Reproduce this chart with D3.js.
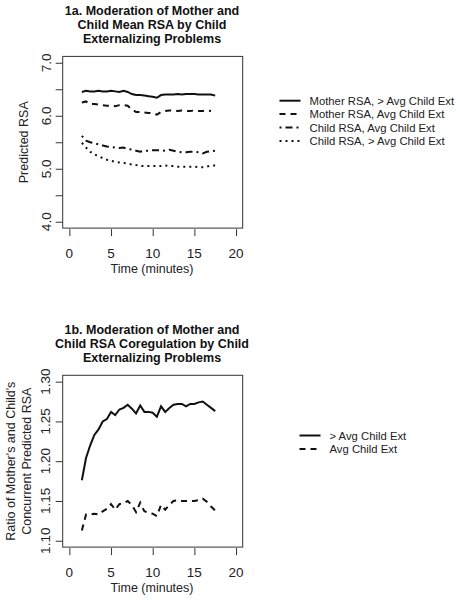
<!DOCTYPE html>
<html><head><meta charset="utf-8">
<script src="https://cdn.jsdelivr.net/npm/d3@7"></script>
<style>body{margin:0;background:#fff;} svg{display:block;font-family:"Liberation Sans",Arial,sans-serif;}</style>
</head><body>
<svg id="c" width="460" height="600"></svg>
<script>
const times = [1.5,2,2.5,3,3.5,4,4.5,5,5.5,6,6.5,7,7.5,8,8.5,9,9.5,10,10.5,11,11.5,12,12.5,13,13.5,14,14.5,15,15.5,16,16.5,17,17.5];
const motherHigh = [6.45,6.47,6.46,6.46,6.47,6.46,6.46,6.47,6.46,6.45,6.47,6.45,6.41,6.39,6.39,6.38,6.37,6.36,6.34,6.39,6.40,6.40,6.40,6.41,6.40,6.41,6.41,6.41,6.40,6.40,6.40,6.40,6.38];
const motherAvg = [6.25,6.27,6.22,6.22,6.21,6.20,6.19,6.19,6.18,6.20,6.20,6.19,6.12,6.07,6.07,6.06,6.05,6.05,6.02,6.07,6.09,6.10,6.10,6.09,6.10,6.09,6.09,6.10,6.09,6.09,6.10,6.09];
const childAvg = [5.62,5.53,5.50,5.48,5.46,5.44,5.42,5.41,5.40,5.39,5.40,5.37,5.36,5.34,5.32,5.34,5.34,5.35,5.35,5.35,5.34,5.36,5.34,5.32,5.31,5.31,5.32,5.32,5.31,5.29,5.32,5.33,5.34];
const childHigh = [5.49,5.40,5.32,5.27,5.24,5.20,5.17,5.15,5.13,5.12,5.11,5.10,5.08,5.07,5.05,5.05,5.05,5.05,5.05,5.05,5.06,5.05,5.05,5.04,5.04,5.04,5.04,5.04,5.03,5.03,5.04,5.06,5.06];
const ratioHigh = [1.176,1.204,1.220,1.233,1.240,1.250,1.253,1.262,1.258,1.265,1.267,1.271,1.266,1.260,1.270,1.262,1.262,1.261,1.256,1.269,1.262,1.267,1.271,1.272,1.272,1.269,1.272,1.272,1.274,1.275,1.271,1.267,1.263];
const ratioAvg = [1.113,1.133,1.133,1.134,1.133,1.137,1.140,1.146,1.139,1.146,1.147,1.150,1.145,1.136,1.148,1.137,1.135,1.134,1.131,1.145,1.139,1.145,1.150,1.151,1.150,1.150,1.150,1.150,1.151,1.153,1.149,1.143,1.138];
const xTicks = [0,5,10,15,20];
const yTicks1 = [4.0,4.5,5.0,5.5,6.0,6.5,7.0];
const yLabels1 = ["4.0","","5.0","","6.0","","7.0"];
const yTicks2 = [1.10,1.15,1.20,1.25,1.30];
const yLabels2 = ["1.10","1.15","1.20","1.25","1.30"];
const legend1 = ["Mother RSA, > Avg Child Ext","Mother RSA, Avg Child Ext","Child RSA, Avg Child Ext","Child RSA, > Avg Child Ext"];
const legend2 = ["> Avg Child Ext","Avg Child Ext"];

const DASH = {solid:null, dashed:"6,5", dotdash:"2,4,7,4", dotted:"2,4"};
const FONT = "Liberation Sans, Arial, sans-serif";
const svg = d3.select("#c");

function panel(cfg){
  const g = svg.append("g");
  const x = d3.scaleLinear().domain([-0.8,20.8]).range([62.7,242.7]);
  const pad = (cfg.yDom[1]-cfg.yDom[0])*0.04;
  const y = d3.scaleLinear().domain([cfg.yDom[0]-pad,cfg.yDom[1]+pad]).range([cfg.bottom,cfg.top]);
  // title
  const t = g.append("text").attr("x",152).attr("text-anchor","middle")
    .attr("font-weight","bold").attr("font-size",12.5).attr("fill","#111");
  cfg.title.forEach((s,i)=>t.append("tspan").attr("x",152).attr("y",cfg.titleY+i*14).text(s));
  // box
  g.append("rect").attr("x",x(-0.8)).attr("y",y(cfg.yDom[1]+pad))
    .attr("width",x(20.8)-x(-0.8)).attr("height",y(cfg.yDom[0]-pad)-y(cfg.yDom[1]+pad))
    .attr("fill","none").attr("stroke","#333").attr("stroke-width",1);
  // x axis
  const xa = g.append("g").attr("transform",`translate(0,${cfg.bottom+1})`)
    .call(d3.axisBottom(x).tickValues(xTicks).tickSize(7).tickFormat(""));
  xa.select(".domain").remove();
  xa.selectAll("line").attr("stroke","#333");
  g.selectAll(".xl").data(xTicks).join("text").attr("class","xl")
    .attr("x",d=>x(d)).attr("y",cfg.bottom+25).attr("text-anchor","middle")
    .attr("dominant-baseline","central").attr("font-size",13.5).attr("fill","#222")
    .attr("font-family",FONT).text(d=>d);
  // y axis
  const ya = g.append("g").attr("transform",`translate(${x(-0.8)},0)`)
    .call(d3.axisLeft(y).tickValues(cfg.yTicks).tickSize(7).tickFormat(""));
  ya.select(".domain").remove();
  ya.selectAll("line").attr("stroke","#333");
  g.selectAll(".yl").data(cfg.yTicks).join("text").attr("class","yl")
    .attr("transform",d=>`translate(${cfg.yLabX},${y(d)}) rotate(-90)`)
    .attr("text-anchor","middle").attr("dominant-baseline","central")
    .attr("font-size",13.5).attr("fill","#222").attr("font-family",FONT)
    .text((d,i)=>cfg.yLabels[i]);
  // x label
  g.append("text").attr("x",152).attr("y",cfg.bottom+40.5).attr("text-anchor","middle")
    .attr("dominant-baseline","central")
    .attr("font-size",12.5).attr("fill","#222").text("Time (minutes)");
  // y label
  const cy = (cfg.top+cfg.bottom)/2;
  cfg.yTitle.forEach((s,i)=>{
    g.append("text").attr("transform",`translate(${cfg.yTitleX[i]},${cy}) rotate(-90)`)
      .attr("text-anchor","middle").attr("dominant-baseline","central")
      .attr("font-size",12.5).attr("fill","#222").text(s);
  });
  // lines
  const line = d3.line().x((d,i)=>x(times[i])).y(d=>y(d));
  cfg.series.forEach(s=>{
    g.append("path").datum(s.values).attr("d",line).attr("fill","none")
      .attr("stroke","#111").attr("stroke-width",2)
      .attr("stroke-dasharray",DASH[s.style]);
  });
  // legend
  cfg.series.forEach((s,i)=>{
    const ly = cfg.legY + i*13.4;
    g.append("line").attr("x1",cfg.legX).attr("x2",cfg.legX+21).attr("y1",ly).attr("y2",ly)
      .attr("stroke","#111").attr("stroke-width",2).attr("stroke-dasharray",DASH[s.style]);
    g.append("text").attr("x",cfg.legX+30).attr("y",ly).attr("dominant-baseline","central")
      .attr("font-size",11.3).attr("fill","#222").text(s.label);
  });
}

panel({
  title:["1a. Moderation of Mother and","Child Mean RSA by Child","Externalizing Problems"],
  titleY:14.5, top:56.4, bottom:228.1, yDom:[4,7], yTicks:yTicks1, yLabels:yLabels1,
  yLabX:46.5, yTitle:["Predicted RSA"], yTitleX:[23.5], legX:279.5, legY:100.7,
  series:[
    {values:motherHigh, style:"solid", label:legend1[0]},
    {values:motherAvg, style:"dashed", label:legend1[1]},
    {values:childAvg, style:"dotdash", label:legend1[2]},
    {values:childHigh, style:"dotted", label:legend1[3]}
  ]
});
panel({
  title:["1b. Moderation of Mother and","Child RSA Coregulation by Child","Externalizing Problems"],
  titleY:333.5, top:375.3, bottom:547.1, yDom:[1.10,1.30], yTicks:yTicks2, yLabels:yLabels2,
  yLabX:45, yTitle:["Ratio of Mother's and Child's","Concurrent Predicted RSA"], yTitleX:[10.5,26.5], legX:299.5, legY:435.5,
  series:[
    {values:ratioHigh, style:"solid", label:legend2[0]},
    {values:ratioAvg, style:"dashed", label:legend2[1]}
  ]
});
</script>
</body></html>
